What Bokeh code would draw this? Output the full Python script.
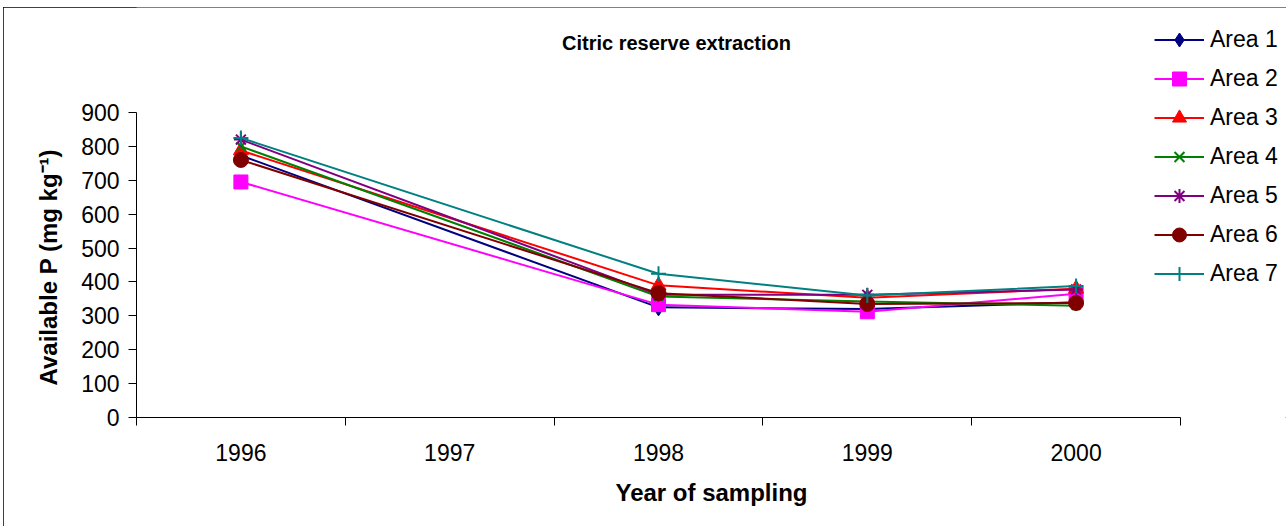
from bokeh.plotting import figure
from bokeh.models import Range1d, FixedTicker, Legend, LegendItem, Label, Title
from bokeh.embed import file_html
from bokeh.resources import INLINE

# ---- data ----
year_labels = ["1996", "1997", "1998", "1999", "2000"]
years = [1996, 1998, 1999, 2000]          # no sampling in 1997
area1 = [773, 325, 320, 340]
area2 = [695, 333, 312, 365]
area3 = [788, 390, 353, 380]
area4 = [800, 357, 342, 330]
area5 = [820, 362, 362, 378]
area6 = [760, 367, 335, 338]
area7 = [825, 424, 360, 388]
names = ["Area 1", "Area 2", "Area 3", "Area 4", "Area 5", "Area 6", "Area 7"]
y_ticks = [0, 100, 200, 300, 400, 500, 600, 700, 800, 900]

styles = [
    ("#000080", "diamond", 17),
    ("#FF00FF", "square", 14),
    ("#FF0000", "triangle", 15),
    ("#008000", "x", 12),
    ("#800080", "asterisk", 14),
    ("#800000", "circle", 15),
    ("#008080", "cross", 15),
]
values = [area1, area2, area3, area4, area5, area6, area7]

FONT = "Liberation Sans"
W, H = 1283, 519
# plot area spans the whole top/right of the canvas; axes are limited with bounds
tick_years = [int(y) for y in year_labels]
x_lo, x_hi = tick_years[0] - 0.5, tick_years[-1] + 0.5
X_END = x_lo + 1150 / 208.8          # keep room on the right for the legend
Y_END = y_ticks[-1] * 410 / 305       # keep room above for title and legend

p = figure(width=W, height=H, output_backend="svg", toolbar_location=None, title=None,
           x_range=Range1d(x_lo, X_END), y_range=Range1d(0, Y_END),
           min_border_left=133, min_border_right=0, min_border_top=0, min_border_bottom=109)
p.margin = (7, 0, 0, 3)
p.stylesheets = [":host { outline: 1px solid black; outline-offset: -1px; }"]
p.outline_line_color = None
p.xgrid.visible = False
p.ygrid.visible = False
p.background_fill_color = "white"
p.border_fill_color = "white"

minor = [t - 0.5 for t in tick_years] + [x_hi]
xa = p.xaxis[0]
xa.bounds = (x_lo, x_hi)
xa.ticker = FixedTicker(ticks=tick_years, minor_ticks=minor)
xa.major_label_overrides = {t: l for t, l in zip(tick_years, year_labels)}
xa.major_tick_line_color = None
xa.major_tick_out = 8
xa.major_tick_in = 0
xa.minor_tick_line_color = "black"
xa.minor_tick_out = 8
xa.minor_tick_in = 0
xa.major_label_standoff = 18
xa.axis_label = "Year of sampling"
xa.axis_label_standoff = 15
xa.axis_label_text_font_size = "24px"
xa.axis_label_text_font_style = "bold"
xa.axis_label_text_font = FONT
xa.axis_label_text_color = "black"

ya = p.yaxis[0]
ya.bounds = (y_ticks[0], y_ticks[-1])
ya.ticker = FixedTicker(ticks=y_ticks)
ya.minor_tick_line_color = None
ya.major_tick_out = 8
ya.major_tick_in = 0
ya.major_label_standoff = 9
ya.axis_label = None

for ax in (xa, ya):
    ax.axis_line_color = "black"
    ax.axis_line_width = 1
    ax.major_tick_line_width = 1
    ax.major_label_text_font = FONT
    ax.major_label_text_font_size = "23px"
    ax.major_label_text_color = "black"

# y-axis title (placed on the left, aligned with the 0..900 part of the axis)
ytitle = Title(text="Available P (mg kg\u207b\u00b9)", align="left", offset=32,
               vertical_align="bottom", standoff=34,
               text_font=FONT, text_font_size="24px", text_font_style="bold", text_color="black")
p.add_layout(ytitle, "left")

items = []
for name, vals, (color, marker, size) in zip(names, values, styles):
    r1 = p.line(years, vals, line_color=color, line_width=2)
    r2 = p.scatter(years, vals, marker=marker, size=size, fill_color=color,
                   line_color=color, line_width=2 if marker in ("x", "asterisk", "cross") else 1)
    items.append(LegendItem(label=name, renderers=[r1, r2]))

legend = Legend(items=items, location=(1018, 126), orientation="vertical",
                glyph_width=50, glyph_height=35, label_height=35, spacing=4,
                label_standoff=6, padding=0, margin=0,
                border_line_color=None, background_fill_alpha=0,
                label_text_font=FONT, label_text_font_size="23px", label_text_color="black")
p.add_layout(legend)

title = Label(x=540, y=375, x_units="screen", y_units="screen",
              text="Citric reserve extraction", text_align="center", text_baseline="middle",
              text_font=FONT, text_font_size="20px", text_font_style="bold", text_color="black")
p.add_layout(title)

open("out.html", "w").write(file_html(p, INLINE))
